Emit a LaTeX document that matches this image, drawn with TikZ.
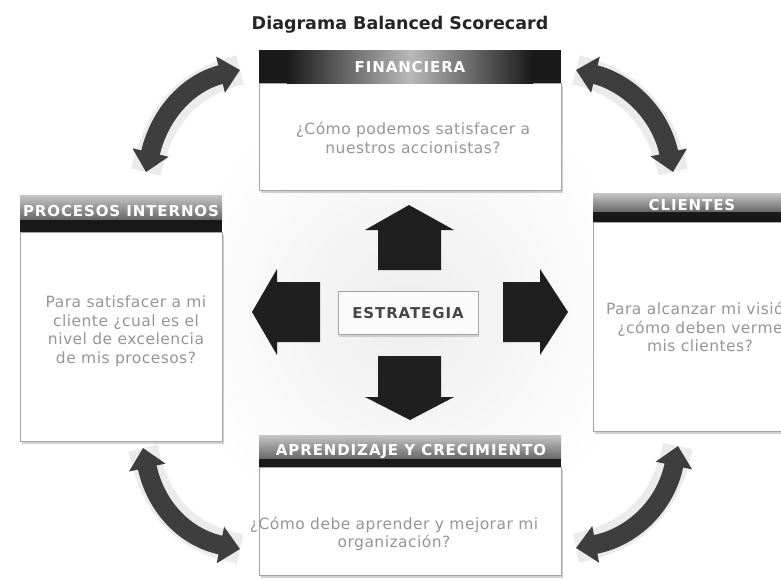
\documentclass[tikz,border=0pt]{standalone}
\usepackage{fontspec}
\setmainfont{DejaVu Sans}
\newfontfamily\spreadfont[LetterSpace=6]{DejaVu Sans}
\newfontfamily\askfont[LetterSpace=3]{DejaVu Sans}
\usepackage{xcolor}
\definecolor{asktext}{RGB}{150,150,150}
\definecolor{swinggray}{RGB}{62,62,62}
\definecolor{boxline}{RGB}{165,165,165}
\usepackage{tikz}
\usetikzlibrary{arrows.meta,shadows,positioning}

\tikzset{
  panel/.style={draw=boxline, fill=white, line width=0.9pt, inner sep=0pt,
    anchor=north west, drop shadow={opacity=0.35, shadow xshift=1.5pt, shadow yshift=-3pt}},
  ask/.style={text=asktext, font=\askfont\fontsize{15.5}{18.5}\selectfont, align=center},
  headtext/.style={text=white, font=\spreadfont\bfseries\fontsize{15}{17}\selectfont},
  blockarrow/.style={fill=black!88},
  halo/.style={line width=30pt, gray!25, opacity=0.6},
  swing/.style={line width=19pt, swinggray,
    {Triangle[width=36pt,length=20pt]}-{Triangle[width=36pt,length=20pt]}}
}

\begin{document}
\begin{tikzpicture}[x=1pt,y=-1pt]
  \useasboundingbox (0,0) rectangle (781,579);
  \fill[white] (0,0) rectangle (781,579);
  \shade[inner color=gray!14, outer color=white] (408,313) circle (235);

  % title
  \node[font=\bfseries\fontsize{17.5}{20}\selectfont, text=black!85] (title) at (400,25) {Diagrama Balanced Scorecard};

  % financiera
  \node[panel, minimum width=302pt, minimum height=107pt] (fin) at (259,83) {};
  \fill[black!90] (259,50) rectangle (561,83);
  \shade[left color=black!90, right color=black!90, middle color=gray!55] (287,50) rectangle (533,83);
  \node[headtext] (finh) at (410,67) {FINANCIERA};
  \node[ask] (fint) at (413,138) {¿Cómo podemos satisfacer a\\nuestros accionistas?};

  % procesos internos
  \node[panel, minimum width=202pt, minimum height=209pt] (pro) at (20,232) {};
  \shade[top color=gray!45, bottom color=gray!80!black] (20,195) rectangle (222,220);
  \fill[black!90] (20,220) rectangle (222,232);
  \node[headtext] (proh) at (121,211) {PROCESOS INTERNOS};
  \node[ask] (prot) at (126,331) {Para satisfacer a mi\\cliente ¿cual es el\\nivel de excelencia\\de mis procesos?};

  % clientes
  \node[panel, minimum width=200pt, minimum height=209pt] (cli) at (593,222) {};
  \shade[top color=gray!45, bottom color=gray!80!black] (593,193) rectangle (793,212);
  \fill[black!90] (593,212) rectangle (793,222);
  \node[headtext] (clih) at (692,205) {CLIENTES};
  \node[ask] (clit) at (700,327) {Para alcanzar mi visión\\¿cómo deben verme\\mis clientes?};

  % aprendizaje y crecimiento
  \node[panel, minimum width=302pt, minimum height=108pt] (apr) at (259,467) {};
  \shade[top color=gray!45, bottom color=gray!80!black] (259,435) rectangle (561,459);
  \fill[black!90] (259,459) rectangle (561,467);
  \node[headtext] (aprh) at (411,451) {APRENDIZAJE Y CRECIMIENTO};
  \node[ask] (aprt) at (394,534) {¿Cómo debe aprender y mejorar mi\\organización?};

  % estrategia in the middle
  \node[draw=boxline, fill=gray!3, line width=0.9pt, minimum width=140pt, minimum height=43pt,
    drop shadow={opacity=0.3, shadow xshift=1pt, shadow yshift=-2pt},
    font=\spreadfont\bfseries\fontsize{15}{17}\selectfont, text=black!72] (est) at (408,313) {ESTRATEGIA};

  % block arrows
  \fill[blockarrow] (378,270) -- (378,230) -- (365,230) -- (409,205) -- (454,230) -- (441,230) -- (441,270) -- cycle;
  \fill[blockarrow] (378,356) -- (378,397) -- (365,397) -- (410,420) -- (454,397) -- (441,397) -- (441,356) -- cycle;
  \fill[blockarrow] (320,282) -- (277,282) -- (277,269) -- (252,312) -- (277,355) -- (277,342) -- (320,342) -- cycle;
  \fill[blockarrow] (503,282) -- (540,282) -- (540,269) -- (568,312) -- (540,355) -- (540,342) -- (503,342) -- cycle;

  % curved double arrows between perspectives
  \coordinate (tla) at (146,172);
  \coordinate (tlb) at (240,70);
  \coordinate (tra) at (576,70);
  \coordinate (trb) at (673,172);
  \coordinate (bla) at (143,448);
  \coordinate (blb) at (240,549);
  \coordinate (bra) at (678,446);
  \coordinate (brb) at (576,548);

  \draw[halo] (tla) .. controls (160,112) and (190,82) .. (tlb);
  \draw[halo] (tra) .. controls (626,82) and (660,112) .. (trb);
  \draw[halo] (bla) .. controls (156,508) and (186,538) .. (blb);
  \draw[halo] (bra) .. controls (665,508) and (630,538) .. (brb);

  \draw[swing] (tla) .. controls (160,112) and (190,82) .. (tlb);
  \draw[swing] (tra) .. controls (626,82) and (660,112) .. (trb);
  \draw[swing] (bla) .. controls (156,508) and (186,538) .. (blb);
  \draw[swing] (bra) .. controls (665,508) and (630,538) .. (brb);
\end{tikzpicture}
\end{document}
